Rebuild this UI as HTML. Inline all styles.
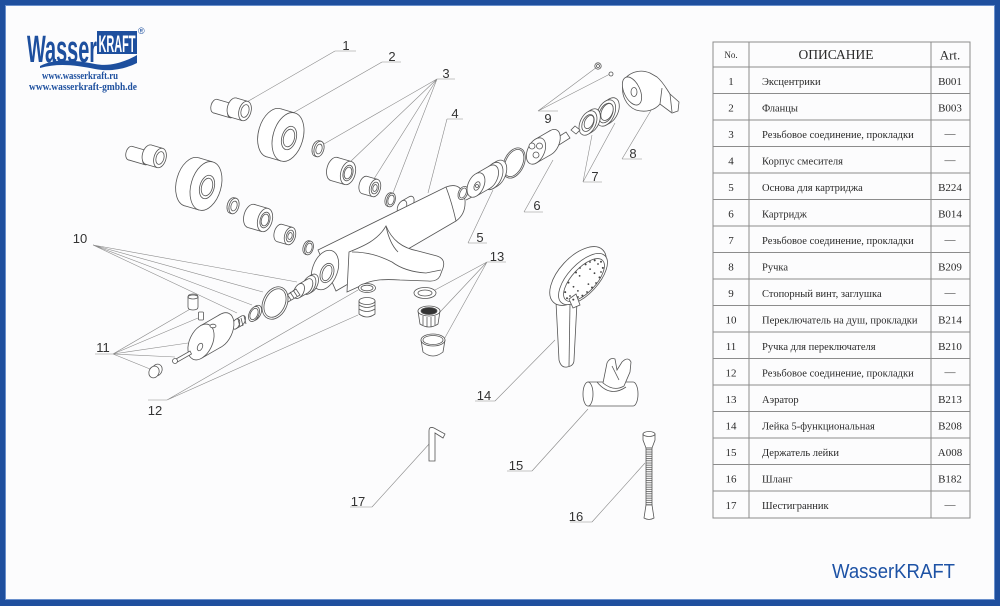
<!DOCTYPE html>
<html><head><meta charset="utf-8">
<style>
html,body{margin:0;padding:0;width:1000px;height:606px;overflow:hidden;background:#1f4f9e;}
#frame{position:absolute;left:5px;top:5px;width:988px;height:593px;background:#fcfcfd;border:1px solid #6a90cc;}
svg{position:absolute;left:0;top:0;}
.t *{vector-effect:non-scaling-stroke;}
.tx{font-family:"Liberation Serif",serif;fill:#2a2a2a;}
.lb{font-family:"Liberation Sans",sans-serif;font-size:13px;fill:#333;text-anchor:middle;}
</style></head>
<body>
<div id="frame"></div>
<svg width="1000" height="606" viewBox="0 0 1000 606">
<defs>
<pattern id="rib" width="6" height="2.2" patternUnits="userSpaceOnUse"><rect width="6" height="2.2" fill="#fff"/><line x1="0" y1="1" x2="6" y2="1" stroke="#555" stroke-width="0.8"/></pattern>
<g id="Ld" class="t"><ellipse cx="-0.576" cy="-0.168" rx=".6" ry="1" transform="rotate(16 -0.576 -0.168)"/><polygon points="0.28,-0.96 -0.296,-1.128 -0.856,0.792 -0.28,0.96" stroke="none"/><path d="M0.28,-0.96 L-0.296,-1.128 M-0.28,0.96 L-0.856,0.792" fill="none"/><ellipse rx=".6" ry="1" transform="rotate(16)"/></g>
<g id="Lr" class="t"><ellipse cx="-0.24" cy="-0.07" rx=".6" ry="1" transform="rotate(16 -0.24 -0.07)"/><polygon points="0.28,-0.96 0.04,-1.03 -0.52,0.89 -0.28,0.96" stroke="none"/><path d="M0.28,-0.96 L0.04,-1.03 M-0.28,0.96 L-0.52,0.89" fill="none"/><ellipse rx=".6" ry="1" transform="rotate(16)"/></g>
<g id="Lt" class="t"><ellipse cx="-1.152" cy="-0.336" rx=".6" ry="1" transform="rotate(16 -1.152 -0.336)"/><polygon points="0.28,-0.96 -0.872,-1.296 -1.432,0.624 -0.28,0.96" stroke="none"/><path d="M0.28,-0.96 L-0.872,-1.296 M-0.28,0.96 L-1.432,0.624" fill="none"/><ellipse rx=".6" ry="1" transform="rotate(16)"/></g>
<g id="Ll" class="t"><ellipse cx="-2.4" cy="-0.7" rx=".6" ry="1" transform="rotate(16 -2.4 -0.7)"/><polygon points="0.28,-0.96 -2.12,-1.66 -2.68,0.26 -0.28,0.96" stroke="none"/><path d="M0.28,-0.96 L-2.12,-1.66 M-0.28,0.96 L-2.68,0.26" fill="none"/><ellipse rx=".6" ry="1" transform="rotate(16)"/></g>
<g id="HL" class="t"><ellipse rx=".6" ry="1" transform="rotate(16)"/></g>
<g id="Rd" class="t"><ellipse cx="0.522" cy="-0.3" rx=".6" ry="1" transform="rotate(25 0.522 -0.3)"/><polygon points="-0.031,-0.853 0.491,-1.153 0.553,0.553 0.031,0.853" stroke="none"/><path d="M-0.031,-0.853 L0.491,-1.153 M0.031,0.853 L0.553,0.553" fill="none"/><ellipse rx=".6" ry="1" transform="rotate(25)"/></g>
<g id="Rr" class="t"><ellipse cx="0.261" cy="-0.15" rx=".6" ry="1" transform="rotate(25 0.261 -0.15)"/><polygon points="-0.031,-0.853 0.23,-1.003 0.292,0.703 0.031,0.853" stroke="none"/><path d="M-0.031,-0.853 L0.23,-1.003 M0.031,0.853 L0.292,0.703" fill="none"/><ellipse rx=".6" ry="1" transform="rotate(25)"/></g>
<g id="Rt" class="t"><ellipse cx="1.044" cy="-0.6" rx=".6" ry="1" transform="rotate(25 1.044 -0.6)"/><polygon points="-0.031,-0.853 1.013,-1.453 1.075,0.253 0.031,0.853" stroke="none"/><path d="M-0.031,-0.853 L1.013,-1.453 M0.031,0.853 L1.075,0.253" fill="none"/><ellipse rx=".6" ry="1" transform="rotate(25)"/></g>
<g id="HR" class="t"><ellipse rx=".6" ry="1" transform="rotate(25)"/></g>
</defs>

<!-- LOGO -->
<text x="27" y="62" font-family="Liberation Sans, sans-serif" font-weight="bold" font-size="38" fill="#1d4f9e" textLength="70" lengthAdjust="spacingAndGlyphs">Wasser</text>
<rect x="97" y="31" width="40" height="23" fill="#1d4f9e"/>
<text x="98.5" y="52" font-family="Liberation Sans, sans-serif" font-weight="bold" font-size="24" fill="#fff" textLength="37" lengthAdjust="spacingAndGlyphs">KRAFT</text>
<path d="M40,66 C55,58 75,60 95,64 C110,67 125,62 137,55 L137,63 C125,69 110,72 95,69 C75,65 58,63 40,68 Z" fill="#1d4f9e"/>
<text x="138" y="34" font-family="Liberation Sans, sans-serif" font-size="9" fill="#1d4f9e">®</text>
<text x="80" y="79" text-anchor="middle" font-family="Liberation Serif, serif" font-weight="bold" font-size="10" fill="#1d4f9e" textLength="76" lengthAdjust="spacingAndGlyphs">www.wasserkraft.ru</text>
<text x="83" y="90" text-anchor="middle" font-family="Liberation Serif, serif" font-weight="bold" font-size="10" fill="#1d4f9e" textLength="108" lengthAdjust="spacingAndGlyphs">www.wasserkraft-gmbh.de</text>

<!-- LEADERS -->
<g stroke="#8a8a8a" stroke-width="0.6" fill="none">
<path d="M335,51 L356,51 M335,51 L245,103"/>
<path d="M382,62 L401,62 M382,62 L293,113"/>
<path d="M437,79 L455,79 M437,79 L317,148 M437,79 L350,162 M437,79 L372,182 M437,79 L393,193"/>
<path d="M447,119 L463,119 M447,119 L428,193"/>
<path d="M538,111 L558,111 M538,111 L597,67 M538,111 L610,74"/>
<path d="M622,159 L642,159 M622,159 L653,107"/>
<path d="M583,182 L602,182 M583,182 L592,135 M583,182 L615,123"/>
<path d="M524,212 L543,212 M524,212 L553,160"/>
<path d="M468,243 L487,243 M468,243 L493,190"/>
<path d="M487,262 L506,262 M487,262 L435,290 M487,262 L440,312 M487,262 L442,343"/>
<path d="M475,401 L495,401 M495,401 L555,340"/>
<path d="M507,471 L532,471 M532,471 L588,409"/>
<path d="M570,522 L592,522 M592,522 L645,463"/>
<path d="M350,507 L372,507 M372,507 L430,443"/>
<path d="M93,245 L297,282 M93,245 L263,292 M93,245 L252,305 M93,245 L237,313"/>
<path d="M95,354 L113,354 M113,354 L192,308 M113,354 L198,318 M113,354 L188,343 M113,354 L175,357 M113,354 L150,369"/>
<path d="M148,400 L167,400 M167,400 L358,290 M167,400 L358,315"/>
</g>

<!-- PARTS -->
<g fill="#fff" stroke="#555" stroke-width="0.8">
<!-- upper inlet -->
<use href="#Ll" transform="translate(232,111) scale(7)"/>
<use href="#Lt" transform="translate(245,111) scale(10)"/>
<use href="#HL" transform="translate(245,111) scale(6.5)"/>
<use href="#Ld" transform="translate(288,137) scale(25)"/>
<use href="#HL" transform="translate(289,138) scale(12)"/>
<use href="#HL" transform="translate(289,138) scale(9)"/>
<use href="#Lr" transform="translate(319,149) scale(8)"/>
<use href="#HL" transform="translate(319,149) scale(5)"/>
<use href="#Lt" transform="translate(348,173) scale(12)"/>
<use href="#HL" transform="translate(348,173) scale(8)"/>
<use href="#HL" transform="translate(348,173) scale(6)"/>
<use href="#Lt" transform="translate(375,188) scale(9)"/>
<use href="#HL" transform="translate(375,188) scale(6)"/>
<use href="#HL" transform="translate(375,188) scale(3.5)"/>
<use href="#Lr" transform="translate(391,200) scale(7)"/>
<use href="#HL" transform="translate(391,200) scale(5)"/>
<!-- lower inlet -->
<use href="#Ll" transform="translate(147,158) scale(7)"/>
<use href="#Lt" transform="translate(160,158) scale(10)"/>
<use href="#HL" transform="translate(160,158) scale(6.5)"/>
<use href="#Ld" transform="translate(206,186) scale(25)"/>
<use href="#HL" transform="translate(207,187) scale(12)"/>
<use href="#HL" transform="translate(207,187) scale(9)"/>
<use href="#Lr" transform="translate(234,206) scale(8)"/>
<use href="#HL" transform="translate(234,206) scale(5)"/>
<use href="#Lt" transform="translate(265,220) scale(12)"/>
<use href="#HL" transform="translate(265,220) scale(8)"/>
<use href="#HL" transform="translate(265,220) scale(6)"/>
<use href="#Lt" transform="translate(290,236) scale(9)"/>
<use href="#HL" transform="translate(290,236) scale(6)"/>
<use href="#HL" transform="translate(290,236) scale(3.5)"/>
<use href="#Lr" transform="translate(309,248) scale(7)"/>
<use href="#HL" transform="translate(309,248) scale(5)"/>

<!-- body -->
<use href="#Rt" transform="translate(402,207) scale(7)"/>
<path d="M318,250 L446,187 Q462,181 465,200 Q466,214 456,221 L336,291 Z"/>
<path d="M446,187 Q452,203 456,221" fill="none"/>
<ellipse cx="325" cy="270" rx="12.5" ry="20.5" transform="rotate(20 325 270)"/>
<ellipse cx="327" cy="273" rx="6.5" ry="10" transform="rotate(20 327 273)"/>
<ellipse cx="327" cy="273" rx="4.5" ry="8" transform="rotate(20 327 273)" fill="none"/>
<path d="M349,252 C364,246 378,240 386,226 C392,240 402,248 418,251 L437,256 Q446,259 443,268 L440,276 Q437,282 428,281 L400,280 C385,279 370,279 358,287 L347,292 Z"/>
<path d="M352,252 C368,252 380,256 392,262 C400,268 410,272 426,273 L441,270 M386,226 C388,236 392,246 398,252" fill="none"/>
<ellipse cx="463" cy="193" rx="4.5" ry="7" transform="rotate(25 463 193)"/>
<ellipse cx="463" cy="193" rx="3" ry="5.3" transform="rotate(25 463 193)"/>
<path d="M466,200 L472,197" fill="none"/>

<!-- handle 8 & screws 9 -->
<path d="M623,84 C625,74 638,68 650,73 L657,77 C663,82 666,88 670,94 L679,102 L678,111 L672,113 L660,104 C655,110 646,113 636,110 C626,106 621,95 623,84 Z"/>
<ellipse cx="632" cy="91" rx="8" ry="15" transform="rotate(-25 632 91)"/>
<ellipse cx="634" cy="92" rx="3" ry="4.5"/>
<path d="M660,104 L662,88 M670,94 L672,112" fill="none"/>
<circle cx="598" cy="66" r="3.2"/><circle cx="598" cy="66" r="1.5"/>
<circle cx="611" cy="74" r="2"/>

<!-- 7 rings -->
<use href="#Rr" transform="translate(606,113) scale(14)"/>
<use href="#HR" transform="translate(606,113) scale(10.5)"/>
<use href="#HR" transform="translate(607,112) scale(9)"/>
<use href="#Rr" transform="translate(588,123) scale(13)"/>
<use href="#HR" transform="translate(588,123) scale(9)"/>
<use href="#HR" transform="translate(589,122) scale(7)"/>
<polygon points="571,130 575,126 580,130 576,134"/>
<!-- 6 cartridge -->
<path d="M555,139 L566,132 L570,138 L559,145 Z"/>
<use href="#Rt" transform="translate(536,151) scale(14)"/>
<circle cx="532" cy="146" r="3"/><circle cx="539.5" cy="146" r="3"/><circle cx="536" cy="155" r="3"/>
<!-- o-ring -->
<ellipse cx="514" cy="163" rx="10" ry="16" transform="rotate(25 514 163)"/>
<ellipse cx="514" cy="163" rx="8.5" ry="14.5" transform="rotate(25 514 163)"/>
<!-- 5 base -->
<use href="#Rr" transform="translate(493,176) scale(14.5)"/>
<use href="#Rt" transform="translate(476,185) scale(13)"/>
<use href="#HR" transform="translate(477,186) scale(4.5)"/>
<circle cx="477" cy="186" r="1.5"/>

<!-- 10 -->
<use href="#Rr" transform="translate(309,285) scale(10)"/>
<use href="#Rt" transform="translate(299,291) scale(8)"/>
<path d="M284,297 L296,289 L300,295 L288,302 Z"/>
<path d="M287,294 L291,300 M290,292 L294,298 M293,290 L297,296" fill="none"/>
<ellipse cx="275" cy="303" rx="12" ry="17" transform="rotate(25 275 303)"/>
<ellipse cx="275" cy="303" rx="10" ry="15" transform="rotate(25 275 303)"/>
<use href="#Rr" transform="translate(254,314) scale(8)"/>
<use href="#HR" transform="translate(254,314) scale(6)"/>
<use href="#Rt" transform="translate(236,324) scale(5.5)"/>
<path d="M238,319 L240,327 M241,318 L243,326 M244,316 L246,324" fill="none"/>
<ellipse cx="229" cy="328" rx="2.5" ry="3.5"/>
<!-- 11 -->
<path d="M188,297 Q188,294 193,294 Q198,294 198,297 L198,307 Q198,310 193,310 Q188,310 188,307 Z"/>
<ellipse cx="193" cy="297" rx="5" ry="2"/>
<rect x="198.5" y="312" width="5" height="8" rx="1"/>
<use href="#Rt" transform="translate(201,342) scale(19)"/>
<use href="#HR" transform="translate(200,347) scale(4)"/>
<ellipse cx="213" cy="326" rx="3" ry="1.8"/>
<path d="M176,359 L190,351 L191.5,354 L177.5,362 Z"/>
<circle cx="175" cy="361" r="2.5"/>
<ellipse cx="157" cy="370" rx="5" ry="6" transform="rotate(25 157 370)"/>
<ellipse cx="154" cy="372" rx="5" ry="6" transform="rotate(25 154 372)"/>

<!-- 12 -->
<ellipse cx="367" cy="288" rx="8.5" ry="4.5"/>
<ellipse cx="367" cy="288" rx="6" ry="2.8"/>
<path d="M359,301 L359,314 Q367,320 375,314 L375,301 Z"/>
<ellipse cx="367" cy="301" rx="8" ry="3.5"/>
<path d="M359,305 Q367,310 375,305 M359,309 Q367,314 375,309" fill="none"/>
<!-- 13 -->
<ellipse cx="425" cy="293" rx="11" ry="5.5"/>
<ellipse cx="425" cy="293" rx="7" ry="3"/>
<path d="M418,311 L420,324 Q429,330 438,324 L440,311 Z"/>
<ellipse cx="429" cy="311" rx="11" ry="5"/>
<ellipse cx="429" cy="311" rx="8" ry="3.5" fill="#333"/>
<path d="M423,316 L423,325 M427,317 L427,327 M431,317 L431,327 M435,316 L435,325" fill="none"/>
<path d="M421,340 L423,352 Q433,360 443,352 L445,340 Z"/>
<ellipse cx="433" cy="340" rx="12" ry="6"/>
<ellipse cx="433" cy="340" rx="10" ry="4.5"/>

<!-- 14 shower -->
<path d="M556,302 L559,360 Q561,368 567,367 Q574,366 574,360 L577,302 Z"/>
<path d="M570,304 L569,366" fill="none"/>
<ellipse cx="578" cy="276" rx="19" ry="36" transform="rotate(43 578 276)"/>
<ellipse cx="583" cy="279" rx="15" ry="32" transform="rotate(43 583 279)"/>
<ellipse cx="584" cy="280" rx="12" ry="27" transform="rotate(43 584 280)" fill="none"/>
<path d="M569,299 L576,294 L580,305 L573,308 Z"/>
</g>
<g fill="#444">
<circle cx="592" cy="287.5" r="1"/><circle cx="582.4" cy="295.6" r="1"/><circle cx="573.3" cy="299.6" r="1"/><circle cx="567" cy="298.3" r="1"/><circle cx="565.2" cy="292.1" r="1"/><circle cx="568.5" cy="282.6" r="1"/><circle cx="576" cy="272.5" r="1"/><circle cx="585.6" cy="264.4" r="1"/><circle cx="594.7" cy="260.4" r="1"/><circle cx="601" cy="261.7" r="1"/><circle cx="602.8" cy="267.9" r="1"/><circle cx="599.5" cy="277.4" r="1"/>
<circle cx="588.4" cy="284.1" r="0.9"/><circle cx="577.9" cy="290.9" r="0.9"/><circle cx="573.5" cy="286.8" r="0.9"/><circle cx="579.6" cy="275.9" r="0.9"/><circle cx="590.1" cy="269.1" r="0.9"/><circle cx="594.5" cy="273.2" r="0.9"/>
<circle cx="596" cy="283" r="0.9"/><circle cx="587" cy="292" r="0.9"/><circle cx="578" cy="297" r="0.9"/><circle cx="570" cy="296" r="0.9"/><circle cx="590" cy="262" r="0.9"/><circle cx="598" cy="264" r="0.9"/><circle cx="601" cy="272" r="0.9"/><circle cx="580" cy="268" r="0.9"/>
</g>
<g fill="#fff" stroke="#555" stroke-width="0.8">
<!-- 15 holder -->
<path d="M588,382 L633,382 A5,12 0 0 1 633,406 L588,406 Z"/>
<ellipse cx="588" cy="394" rx="5" ry="12"/>
<path d="M603,383 L607,363 Q610,357 615,359 L617,370 L622,362 Q628,356 631,362 L630,372 L624,386 Q614,392 603,383 Z"/>
<path d="M597,382 Q610,398 626,387 M612,366 L619,380" fill="none"/>
<!-- 16 hose -->
<path d="M643,434 L643,440 L646,448 L652,448 L655,440 L655,434 Z"/>
<ellipse cx="649" cy="434" rx="6" ry="2.5"/>
<rect x="646" y="448" width="6" height="57" fill="url(#rib)"/>
<path d="M646,505 L644,518 Q649,521 654,518 L652,505 Z"/>
<!-- 17 key -->
<path d="M429,461 L429,431 Q429,426 434,428 L445,434 L443,438 L435,433 L435,461 Z"/>
</g>

<!-- LABELS -->
<g class="lb">
<text x="346" y="50">1</text>
<text x="392" y="61">2</text>
<text x="446" y="78">3</text>
<text x="455" y="118">4</text>
<text x="480" y="242">5</text>
<text x="537" y="210">6</text>
<text x="595" y="181">7</text>
<text x="633" y="158">8</text>
<text x="548" y="123">9</text>
<text x="80" y="243">10</text>
<text x="103" y="352">11</text>
<text x="155" y="415">12</text>
<text x="497" y="261">13</text>
<text x="484" y="400">14</text>
<text x="516" y="470">15</text>
<text x="576" y="521">16</text>
<text x="358" y="506">17</text>
</g>

<!-- TABLE -->
<g stroke="#8c8c8c" stroke-width="1" fill="none">
<rect x="713" y="42" width="257" height="476"/>
<path d="M749,42 V518 M931,42 V518"/>
<path d="M713,67 H970 M713,93.5 H970 M713,120 H970 M713,146.5 H970 M713,173 H970 M713,199.5 H970 M713,226 H970 M713,252.5 H970 M713,279 H970 M713,305.5 H970 M713,332 H970 M713,358.5 H970 M713,385 H970 M713,411.5 H970 M713,438 H970 M713,464.5 H970 M713,491 H970"/>
</g>
<g class="tx">
<text x="731" y="58" font-size="9" text-anchor="middle">No.</text>
<text x="836" y="59" font-size="13.5" text-anchor="middle">ОПИСАНИЕ</text>
<text x="950" y="59.5" font-size="13" text-anchor="middle">Art.</text>
</g>
<g class="tx" font-size="11" text-anchor="middle">
<text x="731" y="85">1</text><text x="731" y="111.5">2</text><text x="731" y="138">3</text><text x="731" y="164.5">4</text><text x="731" y="191">5</text><text x="731" y="217.5">6</text><text x="731" y="244">7</text><text x="731" y="270.5">8</text><text x="731" y="297">9</text><text x="731" y="323.5">10</text><text x="731" y="350">11</text><text x="731" y="376.5">12</text><text x="731" y="403">13</text><text x="731" y="429.5">14</text><text x="731" y="456">15</text><text x="731" y="482.5">16</text><text x="731" y="509">17</text>
</g>
<g class="tx" font-size="10.5">
<text x="762" y="85">Эксцентрики</text>
<text x="762" y="111.5">Фланцы</text>
<text x="762" y="138">Резьбовое соединение, прокладки</text>
<text x="762" y="164.5">Корпус смесителя</text>
<text x="762" y="191">Основа для картриджа</text>
<text x="762" y="217.5">Картридж</text>
<text x="762" y="244">Резьбовое соединение, прокладки</text>
<text x="762" y="270.5">Ручка</text>
<text x="762" y="297">Стопорный винт, заглушка</text>
<text x="762" y="323.5">Переключатель на душ, прокладки</text>
<text x="762" y="350">Ручка для переключателя</text>
<text x="762" y="376.5">Резьбовое соединение, прокладки</text>
<text x="762" y="403">Аэратор</text>
<text x="762" y="429.5">Лейка 5-функциональная</text>
<text x="762" y="456">Держатель лейки</text>
<text x="762" y="482.5">Шланг</text>
<text x="762" y="509">Шестигранник</text>
</g>
<g class="tx" font-size="11" text-anchor="middle">
<text x="950" y="85">B001</text>
<text x="950" y="111.5">B003</text>
<text x="950" y="137">—</text>
<text x="950" y="163.5">—</text>
<text x="950" y="191">B224</text>
<text x="950" y="217.5">B014</text>
<text x="950" y="243">—</text>
<text x="950" y="270.5">B209</text>
<text x="950" y="296">—</text>
<text x="950" y="323.5">B214</text>
<text x="950" y="350">B210</text>
<text x="950" y="375.5">—</text>
<text x="950" y="403">B213</text>
<text x="950" y="429.5">B208</text>
<text x="950" y="456">A008</text>
<text x="950" y="482.5">B182</text>
<text x="950" y="508">—</text>
</g>

<text x="832" y="578" font-family="Liberation Sans, sans-serif" font-size="20.5" fill="#1d52a5" textLength="123" lengthAdjust="spacingAndGlyphs">WasserKRAFT</text>
</svg>
</body></html>
